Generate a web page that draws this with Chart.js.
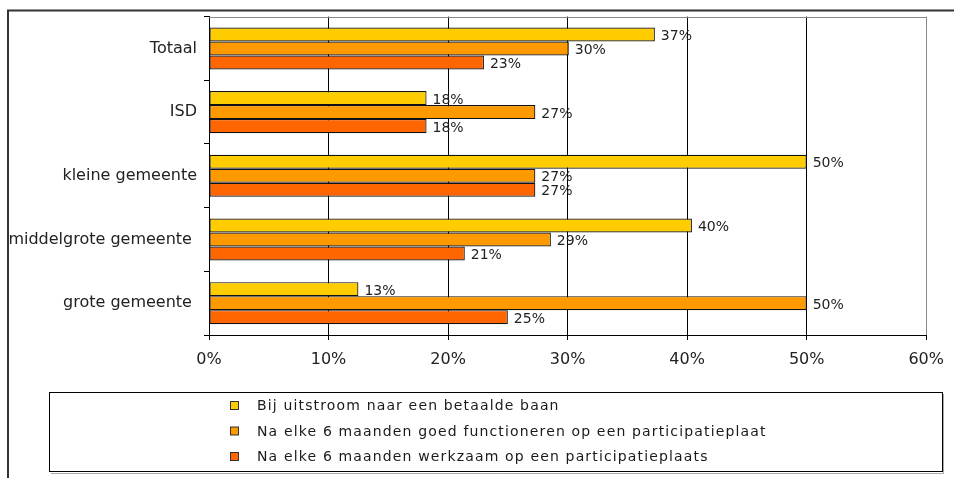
<!DOCTYPE html>
<html><head><meta charset="utf-8">
<script src="https://cdn.jsdelivr.net/npm/chart.js@4/dist/chart.umd.min.js"></script>
<style>html,body{margin:0;padding:0;background:#fff;overflow:hidden}#wrap{width:954px;height:478px;position:relative}</style>
</head><body><div id="wrap"><canvas id="c" width="954" height="478"></canvas></div>
<script>
const categories = ['Totaal', 'ISD', 'kleine gemeente', 'middelgrote gemeente ', 'grote gemeente '];
const seriesNames = [
  'Bij uitstroom naar een betaalde baan',
  'Na elke 6 maanden goed functioneren op een participatieplaat',
  'Na elke 6 maanden werkzaam op een participatieplaats'
];
const uitstroom = [37.3, 18.2, 50.0, 40.4, 12.5];
const goedFunctioneren = [30.1, 27.3, 27.3, 28.6, 50.0];
const werkzaam = [23.0, 18.2, 27.3, 21.4, 25.0];
const xTicks = [0, 10, 20, 30, 40, 50, 60];
const colors = ['#FFCC00', '#FF9900', '#FF6600'];

const FONT = '"DejaVu Sans", Verdana, sans-serif';

const framePlugin = {
  id: 'frame',
  beforeDraw(chart) {
    const ctx = chart.ctx;
    ctx.save();
    ctx.fillStyle = '#fff';
    ctx.fillRect(0, 0, chart.width, chart.height);
    ctx.strokeStyle = '#333';
    ctx.lineWidth = 2;
    ctx.beginPath();
    ctx.moveTo(8, chart.height);
    ctx.lineTo(8, 10.5);
    ctx.lineTo(chart.width, 10.5);
    ctx.stroke();
    ctx.restore();
  },
  beforeDatasetsDraw(chart) {
    const a = chart.chartArea;
    const ctx = chart.ctx;
    ctx.save();
    ctx.strokeStyle = '#888';
    ctx.lineWidth = 1;
    ctx.beginPath();
    ctx.moveTo(a.left, Math.round(a.top) + 0.5);
    ctx.lineTo(Math.round(a.right) + 0.5, Math.round(a.top) + 0.5);
    ctx.lineTo(Math.round(a.right) + 0.5, a.bottom);
    ctx.stroke();
    ctx.restore();
  }
};

const valueLabels = {
  id: 'valueLabels',
  afterDatasetsDraw(chart) {
    const ctx = chart.ctx;
    ctx.save();
    ctx.font = '14px ' + FONT;
    ctx.fillStyle = '#222';
    ctx.textAlign = 'left';
    ctx.textBaseline = 'middle';
    chart.data.datasets.forEach((ds, i) => {
      const meta = chart.getDatasetMeta(i);
      meta.data.forEach((bar, j) => {
        ctx.fillText(Math.round(ds.data[j]) + '%', bar.x + 6, bar.y + 2);
      });
    });
    ctx.restore();
  }
};

const boxLegend = {
  id: 'boxLegend',
  afterDraw(chart) {
    const ctx = chart.ctx;
    ctx.save();
    ctx.strokeStyle = '#aaa';
    ctx.lineWidth = 1;
    ctx.beginPath();
    ctx.moveTo(51, 473.5); ctx.lineTo(943.5, 473.5); ctx.lineTo(943.5, 394);
    ctx.stroke();
    ctx.strokeStyle = '#000';
    ctx.strokeRect(49.5, 392.5, 893, 79);
    const rows = [405.5, 431, 456.5];
    ctx.font = '14px ' + FONT;
    try { ctx.letterSpacing = '1.15px'; } catch (e) {}
    ctx.textAlign = 'left';
    ctx.textBaseline = 'middle';
    chart.data.datasets.forEach((ds, i) => {
      const y = rows[i];
      ctx.fillStyle = ds.backgroundColor;
      ctx.fillRect(230.5, y - 4, 8, 8);
      ctx.strokeStyle = '#333';
      ctx.strokeRect(230.5, y - 4, 8, 8);
      ctx.fillStyle = '#1a1a1a';
      ctx.fillText(ds.label, 257, y + 1);
    });
    ctx.restore();
  }
};

new Chart(document.getElementById('c'), {
  type: 'bar',
  data: {
    labels: categories,
    datasets: [
      { label: seriesNames[0], data: uitstroom, backgroundColor: colors[0] },
      { label: seriesNames[1], data: goedFunctioneren, backgroundColor: colors[1] },
      { label: seriesNames[2], data: werkzaam, backgroundColor: colors[2] }
    ].map(d => Object.assign(d, { borderColor: '#111', borderWidth: 1.2, borderSkipped: false, categoryPercentage: 0.66, barPercentage: 1 }))
  },
  options: {
    indexAxis: 'y',
    responsive: false,
    animation: false,
    devicePixelRatio: 1,
    layout: { padding: { top: 16, right: 25, left: 0, bottom: 0 } },
    plugins: { legend: { display: false }, tooltip: { enabled: false } },
    scales: {
      x: {
        min: 0, max: 60,
        afterBuildTicks: s => { s.ticks = xTicks.map(v => ({ value: v })); },
        ticks: { callback: v => v + '%', font: { family: FONT, size: 16 }, color: '#222', padding: 10, maxRotation: 0 },
        grid: { color: c => (c.index === 6 ? '#888' : '#000'), tickColor: '#000', tickLength: 5, lineWidth: 1 },
        border: { color: '#000', width: 1 },
        afterFit: s => { s.height = 143; }
      },
      y: {
        ticks: { font: { family: FONT, size: 16 }, color: '#222', padding: 7 },
        grid: { drawOnChartArea: false, tickLength: 5, color: '#000' },
        border: { color: '#000', width: 1 },
        afterFit: s => { s.width = 209; }
      }
    }
  },
  plugins: [framePlugin, valueLabels, boxLegend]
});
</script>
</body></html>
